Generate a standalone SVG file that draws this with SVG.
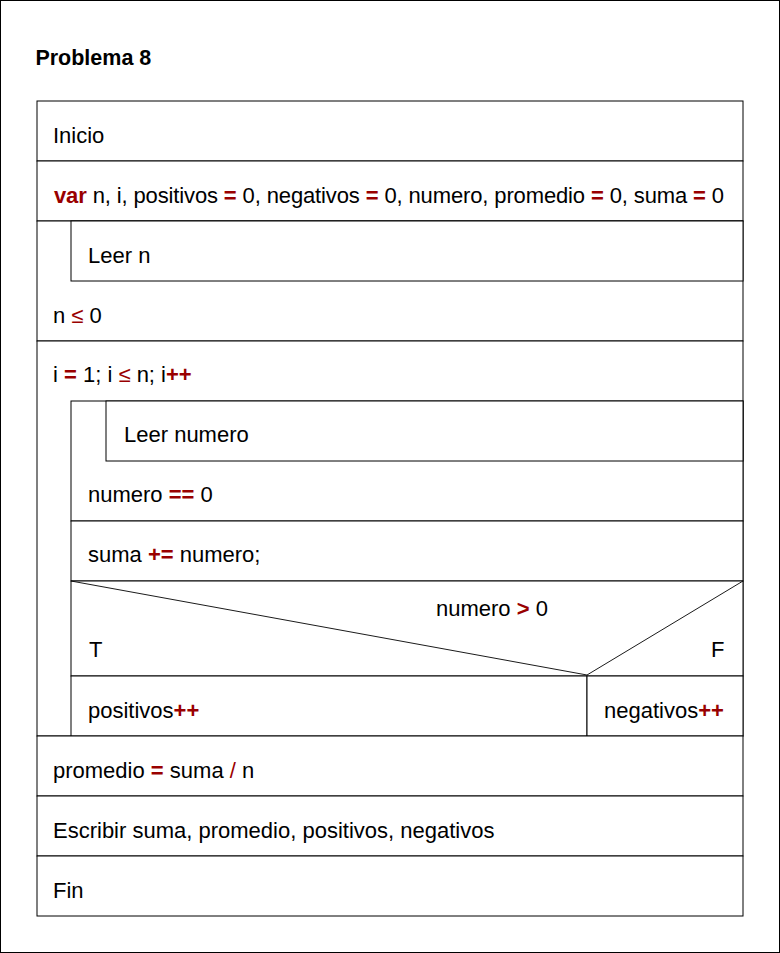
<svg xmlns="http://www.w3.org/2000/svg" width="780" height="953" viewBox="0 0 780 953">
<style>
.t{font-family:"Liberation Sans",Arial,sans-serif;font-size:22px;fill:#000}
.k{font-weight:bold;fill:#990000}
.r{fill:#990000}
.b{fill:#fff;stroke:#000;stroke-width:1}
.d{stroke:#000;stroke-width:0.9;fill:none}
</style>
<rect x="0.5" y="0.5" width="779" height="952" fill="#fff" stroke="#000" stroke-width="1"/>
<text x="35.4" y="65" font-family="Liberation Sans,Arial,sans-serif" font-size="21.5" font-weight="bold">Problema 8</text>
<g id="inicio"><rect class="b" x="37" y="101" width="706" height="60"/><text class="t" x="53" y="143">Inicio</text></g>
<g id="var"><rect class="b" x="37" y="161" width="706" height="60"/><text class="t" x="54" y="203" textLength="670" lengthAdjust="spacing"><tspan class="k">var</tspan> n, i, positivos <tspan class="k">=</tspan> 0, negativos <tspan class="k">=</tspan> 0, numero, promedio <tspan class="k">=</tspan> 0, suma <tspan class="k">=</tspan> 0</text></g>
<g id="loop1"><rect class="b" x="37" y="221" width="706" height="120"/><text class="t" x="53" y="323">n <tspan class="r">≤</tspan> 0</text></g>
<g id="leer-n"><rect class="b" x="71" y="221" width="672" height="60"/><text class="t" x="88" y="263">Leer n</text></g>
<g id="for"><rect class="b" x="37" y="341" width="706" height="395"/><text class="t" x="53" y="382">i <tspan class="k">=</tspan> 1; i <tspan class="r">≤</tspan> n; i<tspan class="k">++</tspan></text></g>
<g id="loop2"><rect class="b" x="71" y="401" width="672" height="120"/><text class="t" x="88" y="502">numero <tspan class="k">==</tspan> 0</text></g>
<g id="leer-numero"><rect class="b" x="106" y="401" width="637" height="60"/><text class="t" x="124" y="442">Leer numero</text></g>
<g id="suma"><rect class="b" x="71" y="521" width="672" height="60"/><text class="t" x="88" y="562">suma <tspan class="k">+=</tspan> numero;</text></g>
<g id="if"><rect class="b" x="71" y="581" width="672" height="95"/><text class="t" x="436" y="616">numero <tspan class="k">&gt;</tspan> 0</text><text class="t" x="89" y="657">T</text><text class="t" x="724.5" y="657" text-anchor="end">F</text></g>
<g id="connectors"><line class="d" x1="71" y1="581" x2="587" y2="675"/><line class="d" x1="587" y1="675" x2="743" y2="581"/></g>
<g id="positivos"><rect class="b" x="71" y="676" width="516" height="60"/><text class="t" x="88" y="718">positivos<tspan class="k">++</tspan></text></g>
<g id="negativos"><rect class="b" x="587" y="676" width="156" height="60"/><text class="t" x="604" y="718">negativos<tspan class="k">++</tspan></text></g>
<g id="promedio"><rect class="b" x="37" y="736" width="706" height="60"/><text class="t" x="53" y="778">promedio <tspan class="k">=</tspan> suma <tspan class="r">/</tspan> n</text></g>
<g id="escribir"><rect class="b" x="37" y="796" width="706" height="60"/><text class="t" x="53" y="838">Escribir suma, promedio, positivos, negativos</text></g>
<g id="fin"><rect class="b" x="37" y="856" width="706" height="60"/><text class="t" x="53" y="898">Fin</text></g>
</svg>
